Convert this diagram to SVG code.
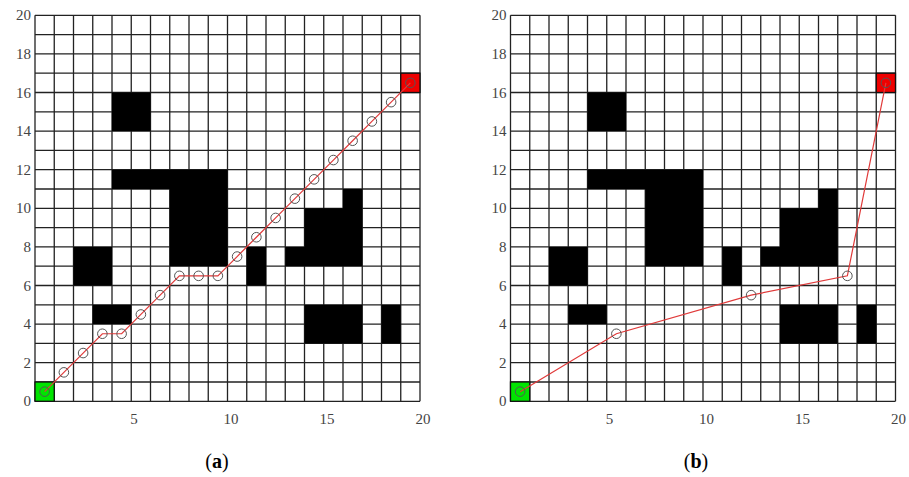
<svg xmlns="http://www.w3.org/2000/svg" xmlns:xlink="http://www.w3.org/1999/xlink" width="909" height="477" viewBox="0 0 909 477">
<style>
.obs{fill:#000}
.grid{fill:none;stroke:#222;stroke-width:1.3}
.start{fill:#00e400;stroke:#111;stroke-width:1.3}
.goal{fill:#ee0000;stroke:#111;stroke-width:1.3}
.path{fill:none;stroke:#e03a3a;stroke-width:1.2}
.wp{fill:none;stroke:#555;stroke-width:1}
.lbl{font-family:"Liberation Serif",serif;font-size:15px;fill:#444}
.ylbl{text-anchor:end}
.xlbl{text-anchor:middle}
.cap{font-family:"Liberation Serif",serif;font-size:20px;fill:#000;text-anchor:middle}
</style>
<defs>
<g id="panel">
<path class="grid" d="M0,0V-386M19.25,0V-386M38.5,0V-386M57.75,0V-386M77,0V-386M96.25,0V-386M115.5,0V-386M134.75,0V-386M154,0V-386M173.25,0V-386M192.5,0V-386M211.75,0V-386M231,0V-386M250.25,0V-386M269.5,0V-386M288.75,0V-386M308,0V-386M327.25,0V-386M346.5,0V-386M365.75,0V-386M385,0V-386M0,0H385M0,-19.3H385M0,-38.6H385M0,-57.9H385M0,-77.2H385M0,-96.5H385M0,-115.8H385M0,-135.1H385M0,-154.4H385M0,-173.7H385M0,-193H385M0,-212.3H385M0,-231.6H385M0,-250.9H385M0,-270.2H385M0,-289.5H385M0,-308.8H385M0,-328.1H385M0,-347.4H385M0,-366.7H385M0,-386H385"/>
<g id="obstacles">
<rect class="obs" x="77" y="-308.8" width="38.5" height="38.6"/>
<path class="obs" d="M77,-231.6H192.5V-135.1H134.75V-212.3H77Z"/>
<rect class="obs" x="38.5" y="-154.4" width="38.5" height="38.6"/>
<rect class="obs" x="57.75" y="-96.5" width="38.5" height="19.3"/>
<rect class="obs" x="211.75" y="-154.4" width="19.25" height="38.6"/>
<path class="obs" d="M250.25,-135.1H327.25V-212.3H308V-193H269.5V-154.4H250.25Z"/>
<rect class="obs" x="269.5" y="-96.5" width="57.75" height="38.6"/>
<rect class="obs" x="346.5" y="-96.5" width="19.25" height="38.6"/>
</g>
<rect class="start" x="0" y="-19.3" width="19.25" height="19.3"/>
<rect class="goal" x="365.75" y="-328.1" width="19.25" height="19.3"/>
</g>
<g id="axes">
<text class="lbl ylbl" x="-4" y="5">0</text>
<text class="lbl ylbl" x="-4" y="-33.6">2</text>
<text class="lbl ylbl" x="-4" y="-72.2">4</text>
<text class="lbl ylbl" x="-4" y="-110.8">6</text>
<text class="lbl ylbl" x="-4" y="-149.4">8</text>
<text class="lbl ylbl" x="-4" y="-188">10</text>
<text class="lbl ylbl" x="-4" y="-226.6">12</text>
<text class="lbl ylbl" x="-4" y="-265.2">14</text>
<text class="lbl ylbl" x="-4" y="-303.8">16</text>
<text class="lbl ylbl" x="-4" y="-342.4">18</text>
<text class="lbl ylbl" x="-4" y="-381">20</text>
<text class="lbl xlbl" x="99" y="23">5</text>
<text class="lbl xlbl" x="196" y="23">10</text>
<text class="lbl xlbl" x="292" y="23">15</text>
<text class="lbl xlbl" x="388" y="23">20</text>
</g>
</defs>
<g id="panel-a" transform="translate(35,401.3)">
<use xlink:href="#panel"/>
<use xlink:href="#axes"/>
<g id="connectors-a">
<polyline class="path" points="9.625,-9.65 28.875,-28.95 48.125,-48.25 67.375,-67.55 86.625,-67.55 105.875,-86.85 125.125,-106.15 144.375,-125.45 163.625,-125.45 182.875,-125.45 202.125,-144.75 221.375,-164.05 240.625,-183.35 259.875,-202.65 279.125,-221.95 298.375,-241.25 317.625,-260.55 336.875,-279.85 356.125,-299.15 375.375,-318.45"/>
</g>
<g id="waypoints-a">
<circle class="wp" cx="9.625" cy="-9.65" r="4.8"/>
<circle class="wp" cx="28.875" cy="-28.95" r="4.8"/>
<circle class="wp" cx="48.125" cy="-48.25" r="4.8"/>
<circle class="wp" cx="67.375" cy="-67.55" r="4.8"/>
<circle class="wp" cx="86.625" cy="-67.55" r="4.8"/>
<circle class="wp" cx="105.875" cy="-86.85" r="4.8"/>
<circle class="wp" cx="125.125" cy="-106.15" r="4.8"/>
<circle class="wp" cx="144.375" cy="-125.45" r="4.8"/>
<circle class="wp" cx="163.625" cy="-125.45" r="4.8"/>
<circle class="wp" cx="182.875" cy="-125.45" r="4.8"/>
<circle class="wp" cx="202.125" cy="-144.75" r="4.8"/>
<circle class="wp" cx="221.375" cy="-164.05" r="4.8"/>
<circle class="wp" cx="240.625" cy="-183.35" r="4.8"/>
<circle class="wp" cx="259.875" cy="-202.65" r="4.8"/>
<circle class="wp" cx="279.125" cy="-221.95" r="4.8"/>
<circle class="wp" cx="298.375" cy="-241.25" r="4.8"/>
<circle class="wp" cx="317.625" cy="-260.55" r="4.8"/>
<circle class="wp" cx="336.875" cy="-279.85" r="4.8"/>
<circle class="wp" cx="356.125" cy="-299.15" r="4.8"/>
<circle class="wp" cx="375.375" cy="-318.45" r="4.8"/>
</g>
</g>
<g id="panel-b" transform="translate(510.5,401.3)">
<use xlink:href="#panel"/>
<use xlink:href="#axes"/>
<g id="connectors-b">
<polyline class="path" points="9.625,-9.65 105.875,-67.55 240.625,-106.15 336.875,-125.45 375.375,-318.45"/>
</g>
<g id="waypoints-b">
<circle class="wp" cx="9.625" cy="-9.65" r="4.8"/>
<circle class="wp" cx="105.875" cy="-67.55" r="4.8"/>
<circle class="wp" cx="240.625" cy="-106.15" r="4.8"/>
<circle class="wp" cx="336.875" cy="-125.45" r="4.8"/>
<circle class="wp" cx="375.375" cy="-318.45" r="4.8"/>
</g>
</g>
<text id="caption-a" class="cap" x="217" y="468">(<tspan font-weight="bold">a</tspan>)</text>
<text id="caption-b" class="cap" x="696" y="468">(<tspan font-weight="bold">b</tspan>)</text>
</svg>
